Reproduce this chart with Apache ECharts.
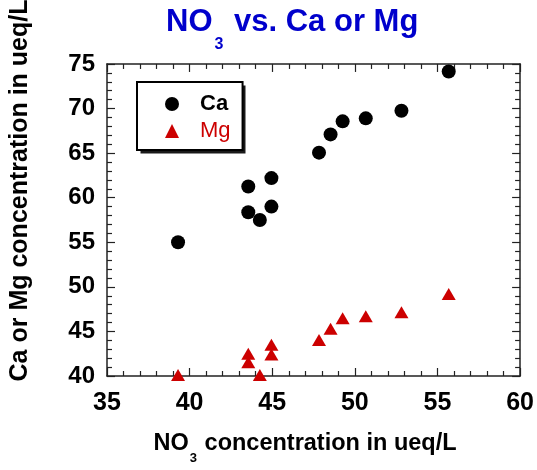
<!DOCTYPE html>
<html>
<head>
<meta charset="utf-8">
<script src="https://cdn.jsdelivr.net/npm/echarts@6/dist/echarts.min.js"></script>
<style>
html,body{margin:0;padding:0;background:#fff;}
#chart{width:537px;height:470px;}
</style>
</head>
<body>
<div id="chart"></div>
<script>
// NO3 concentration (ueq/L)
const no3 = [39.3, 43.55, 43.55, 44.25, 44.95, 44.95, 47.83, 48.53, 49.26, 50.66, 52.82, 55.68];
// Ca concentration (ueq/L)
const ca = [55.0, 61.26, 58.36, 57.5, 62.2, 59.0, 65.05, 67.1, 68.56, 68.9, 69.75, 74.16];
// Mg concentration (ueq/L)
const mg = [40.1, 42.5, 41.55, 40.1, 43.5, 42.4, 44.05, 45.3, 46.47, 46.7, 47.15, 49.2];

const xMin = 35, xMax = 60, xStep = 5;
const yMin = 40, yMax = 75, yStep = 5;

const FONT = '"Liberation Sans", Arial, Helvetica, sans-serif';
const AX = '#222';

function pairs(xs, ys) { return xs.map((x, i) => [x, ys[i]]); }

const chart = echarts.init(document.getElementById('chart'), null, {renderer: 'canvas'});

function makeX(pos, main) {
  return {
    type: 'value', position: pos, min: xMin, max: xMax, interval: xStep,
    axisLine: {show: true, onZero: false, lineStyle: {color: AX, width: 1.5}},
    axisTick: {show: true, inside: true, length: 8, lineStyle: {color: AX, width: 1.2}},
    minorTick: {show: true, splitNumber: 5, length: 5, lineStyle: {color: AX, width: 1.2}},
    splitLine: {show: false},
    axisLabel: {show: main, fontSize: 25, fontWeight: 'bold', color: '#000', fontFamily: FONT, margin: 15},
    name: main ? '{a|NO}{b|3}{a| concentration in ueq/L}' : '',
    nameLocation: 'middle', nameGap: 56,
    nameTextStyle: {
      padding: [0, 17, 0, 0],
      rich: {
        a: {fontSize: 23.5, fontWeight: 'bold', color: '#000', fontFamily: FONT, lineHeight: 23, verticalAlign: 'top'},
        b: {fontSize: 13, fontWeight: 'bold', color: '#000', fontFamily: FONT, lineHeight: 13, verticalAlign: 'top', padding: [20, 1, 0, 1]}
      }
    }
  };
}
function makeY(pos, main) {
  return {
    type: 'value', position: pos, min: yMin, max: yMax, interval: yStep,
    axisLine: {show: true, onZero: false, lineStyle: {color: AX, width: 1.5}},
    axisTick: {show: true, inside: true, length: 8, lineStyle: {color: AX, width: 1.2}},
    minorTick: {show: true, splitNumber: 5, length: 5, lineStyle: {color: AX, width: 1.2}},
    splitLine: {show: false},
    axisLabel: {show: main, fontSize: 24, fontWeight: 'bold', color: '#000', fontFamily: FONT, margin: 12},
    name: main ? 'Ca or Mg concentration in ueq/L' : '',
    nameLocation: 'middle', nameGap: 74,
    nameTextStyle: {fontSize: 25, fontWeight: 'bold', color: '#000', fontFamily: FONT, padding: [0, 0, 0, 59]}
  };
}

chart.setOption({
  animation: false,
  backgroundColor: '#fff',
  title: {
    text: '{a|NO}{b|3}{a| vs. Ca or Mg}',
    left: 166, top: 7, padding: 0,
    textStyle: {
      rich: {
        a: {fontSize: 31, fontWeight: 'bold', color: '#0000cc', fontFamily: FONT, lineHeight: 31, verticalAlign: 'top'},
        b: {fontSize: 16, fontWeight: 'bold', color: '#0000cc', fontFamily: FONT, lineHeight: 16, verticalAlign: 'top', padding: [30, 2, 0, 2]}
      }
    }
  },
  grid: {left: 103, right: 14, top: 61, bottom: 87},
  graphic: [{
    type: 'rect', z: 3, silent: true,
    shape: {x: 140.5, y: 85.5, width: 105, height: 68},
    style: {fill: '#1a1a1a'}
  }],
  legend: {
    orient: 'vertical', left: 137, top: 82, z: 5,
    padding: [11, 12, 8, 28],
    itemWidth: 14, itemHeight: 14, itemGap: 5,
    borderColor: '#000', borderWidth: 2,
    backgroundColor: '#fff',
    textStyle: {fontSize: 22, fontFamily: FONT, lineHeight: 22, padding: [0, 0, 0, 16]},
    data: [
      {name: 'Ca', textStyle: {color: '#000', fontWeight: 'bold'}},
      {name: 'Mg', textStyle: {color: '#cc0000', fontWeight: 'normal'}}
    ]
  },
  xAxis: [makeX('bottom', true), makeX('top', false)],
  yAxis: [makeY('left', true), makeY('right', false)],
  series: [
    {
      name: 'Ca', type: 'scatter', xAxisIndex: 0, yAxisIndex: 0, clip: false,
      symbol: 'circle', symbolSize: 14,
      itemStyle: {color: '#000', opacity: 1},
      data: pairs(no3, ca)
    },
    {
      name: 'Mg', type: 'scatter', xAxisIndex: 0, yAxisIndex: 0, clip: false,
      symbol: 'triangle', symbolSize: [14, 12],
      itemStyle: {color: '#cc0000', opacity: 1},
      data: pairs(no3, mg)
    }
  ]
});
</script>
</body>
</html>
